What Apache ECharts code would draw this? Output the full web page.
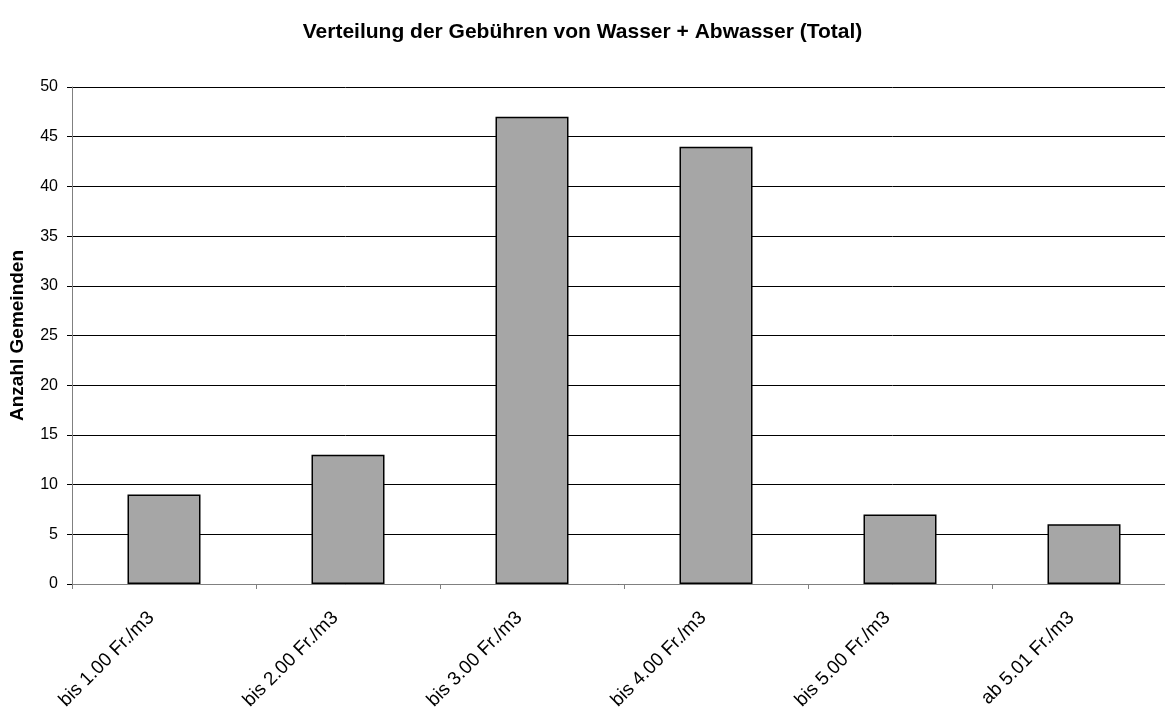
<!DOCTYPE html>
<html>
<head>
<meta charset="utf-8">
<script src="https://cdn.jsdelivr.net/npm/echarts@6/dist/echarts.min.js"></script>
<style>
  html, body { margin: 0; padding: 0; background: #fff; }
  #chart { width: 1165px; height: 711px; }
</style>
</head>
<body>
<div id="chart"></div>
<script>
// Gebühren-Klassen und Anzahl Gemeinden
const categories = ['bis 1.00 Fr./m3', 'bis 2.00 Fr./m3', 'bis 3.00 Fr./m3', 'bis 4.00 Fr./m3', 'bis 5.00 Fr./m3', 'ab 5.01 Fr./m3'];
const gemeinden = [9, 13, 47, 44, 7, 6];

const chart = echarts.init(document.getElementById('chart'));
chart.setOption({
  animation: false,
  backgroundColor: '#fff',
  textStyle: { fontFamily: 'Liberation Sans, Arial, sans-serif' },
  title: {
    text: 'Verteilung der Gebühren von Wasser + Abwasser (Total)',
    left: 'center',
    top: 17,
    textStyle: { fontSize: 21, fontWeight: 'bold', color: '#000' }
  },
  // plot runs past the right edge, like the original
  grid: { left: 72, top: 87, width: 1104, height: 497, outerBoundsMode: 'none' },
  xAxis: {
    type: 'category',
    data: categories,
    axisLine: { lineStyle: { color: '#808080', width: 1 } },
    axisTick: { show: true, length: 5, lineStyle: { color: '#808080' } },
    axisLabel: { rotate: 45, color: '#000', fontSize: 19, margin: 18, padding: [0, 18, 0, 0], interval: 0 }
  },
  yAxis: {
    type: 'value',
    min: 0, max: 50, interval: 5,
    name: 'Anzahl Gemeinden',
    nameLocation: 'middle',
    nameGap: 45,
    nameTextStyle: { fontSize: 19, fontWeight: 'bold', color: '#000' },
    axisLine: { show: true, lineStyle: { color: '#808080' } },
    axisTick: { show: true, length: 5, lineStyle: { color: '#000' } },
    axisLabel: { color: '#000', fontSize: 16, margin: 14 },
    splitLine: { lineStyle: { color: '#000', width: 1 } }
  },
  series: [{
    type: 'bar',
    data: gemeinden,
    barWidth: 73,
    itemStyle: { color: '#a6a6a6', borderColor: '#000', borderWidth: 1.5 }
  }]
});
</script>
</body>
</html>
